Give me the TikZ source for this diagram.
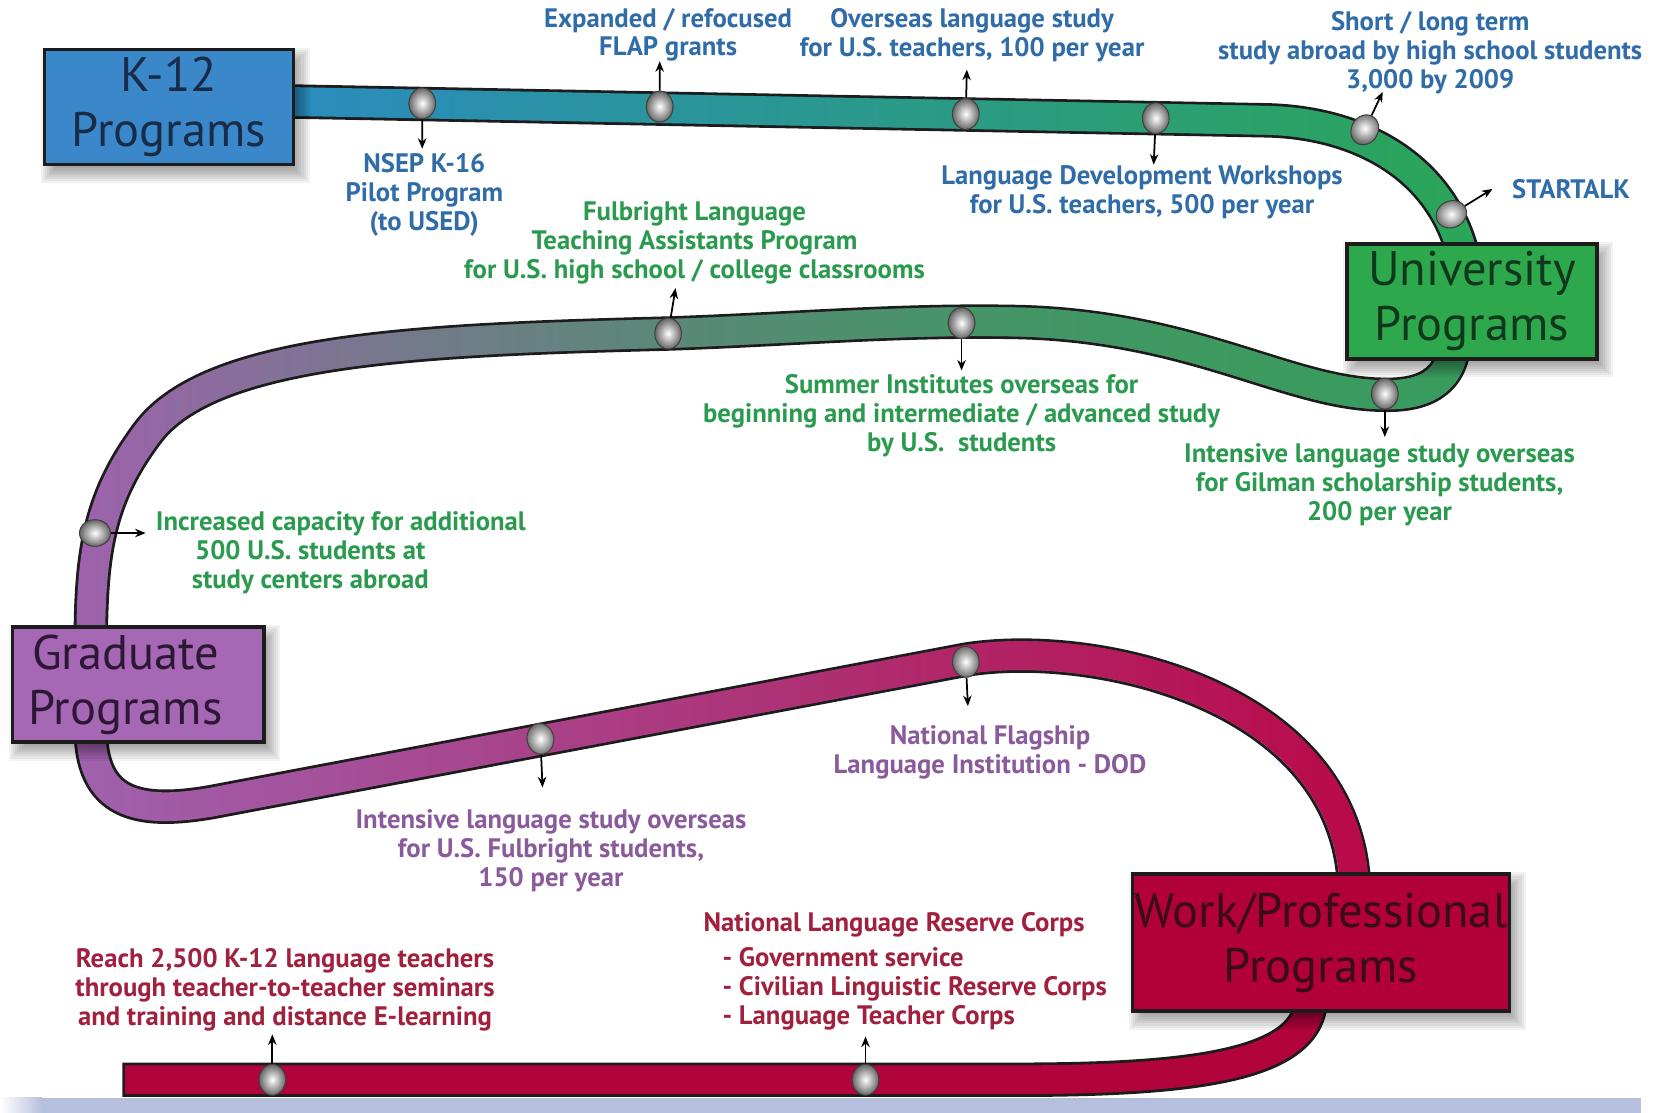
\documentclass[tikz,border=0pt]{standalone}
\usepackage{fontspec}
\setmainfont{PT Sans}
\usetikzlibrary{calc,arrows.meta,fadings,shapes.geometric}

\definecolor{kblue}{HTML}{3A87C9}
\definecolor{ugreen}{HTML}{2EA84C}
\definecolor{gpurple}{HTML}{A667B4}
\definecolor{wred}{HTML}{B2003B}
\definecolor{tblue}{HTML}{2A8CC0}
\definecolor{tgreen}{HTML}{2CA657}
\definecolor{tpurple}{HTML}{A062AE}
\definecolor{tmid}{HTML}{3A9C5E}
\definecolor{tred}{HTML}{BA0A48}
\definecolor{tredb}{HTML}{B1043C}
\definecolor{trkedge}{HTML}{1C1C1C}
\definecolor{lblue}{HTML}{2F6CA8}
\definecolor{lgreen}{HTML}{2A9A4E}
\definecolor{lpurple}{HTML}{8A5A9C}
\definecolor{lred}{HTML}{A1203E}
\definecolor{band}{HTML}{B7BFDF}

\tikzfading[name=toright, left color=transparent!100, right color=transparent!0]

\pgfdeclarelayer{trk}
\pgfdeclarelayer{shd}
\pgfsetlayers{trk,shd,main}

\newcommand\toppath{(268,96) -- (1200,114) .. controls (1290,116) and (1370,160) .. (1388,250)}
\newcommand\midpath{(1378,320) .. controls (1377,365) and (1345,375) .. (1310,374) .. controls (1220,373) and (1130,308) .. (960,305) .. controls (850,303) and (750,312) .. (633,316) .. controls (400,322) and (200,330) .. (140,410) .. controls (95,470) and (86,520) .. (86,610)}
\newcommand\lowpath{(86,690) .. controls (86,762) and (130,772) .. (200,760) -- (915,625) .. controls (1040,605) and (1280,660) .. (1283,845)}
\newcommand\botpathA{(1242,945) .. controls (1242,1010) and (1130,1023) .. (960,1023) -- (116,1023)}
\newcommand\botpathB{(1242,945) .. controls (1242,1010) and (1130,1023) .. (960,1023) -- (118.5,1023)}

\tikzset{
  lbl/.style={font=\bfseries\fontsize{7.6}{8.25}\selectfont, align=center, inner sep=0pt},
  prog/.style={draw=trkedge, line width=1pt, align=center, inner sep=0pt,
    font=\fontsize{13.8}{15.6}\selectfont},
  dot/.style={ellipse, shading=radial, inner color=white, outer color=gray!80!black,
    draw=gray!50!black, line width=0.3pt, minimum width=7.6pt,
    minimum height=8.8pt, inner sep=0pt},
  arr/.style={-{Stealth[length=3pt,width=2.4pt]}, line width=0.5pt, black},
  tedge/.style={draw=trkedge, line width=9.8pt},
  tfill/.style={line width=8.2pt}
}

\begin{document}
\begin{tikzpicture}[x=0.010555cm, y=-0.010555cm]
\useasboundingbox (0,0) rectangle (1568,1054);

% bottom band
\shade[left color=white, right color=band] (0,1040) rectangle (40,1054);
\fill[band] (40,1040) rectangle (1555,1054);

% boxes
\node[prog, fill=kblue, text={rgb,255:red,24;green,44;blue,72},
  minimum width=236*0.3003pt, minimum height=109*0.3003pt] (k12) at (160,101.5) {K-12\\Programs};
\node[prog, fill=ugreen, text={rgb,255:red,16;green,56;blue,28},
  minimum width=237*0.3003pt, minimum height=109*0.3003pt] (uni) at (1394.5,285.5) {University\\Programs};
\node[prog, fill=gpurple, text={rgb,255:red,44;green,24;blue,52},
  minimum width=238*0.3003pt, minimum height=109*0.3003pt] (grad) at (131,648.5) {\hspace*{-7.2pt}Graduate\\\hspace*{-7.2pt}Programs};
\node[prog, fill=wred, text={rgb,255:red,58;green,12;blue,24},
  minimum width=357*0.3003pt, minimum height=130*0.3003pt] (work) at (1251.5,893) {Work/Professional\\Programs};

% soft shadows
\begin{pgfonlayer}{shd}
  \foreach \n in {k12,uni,grad,work}{
    \foreach \r in {0,2,...,16}{
      \fill[black, opacity=0.05] ($(\n.north west)+(14-\r,16-\r)$) rectangle ($(\n.south east)+(\r-2,\r)$);
    }
  }
\end{pgfonlayer}

% tracks
\begin{pgfonlayer}{trk}
  \draw[tedge] \toppath;
  \draw[tfill, tblue] \toppath;
  \draw[tfill, tgreen, path fading=toright] \toppath;

  \draw[tedge] \midpath;
  \draw[tfill, tpurple] \midpath;
  \draw[tfill, tmid, path fading=toright] \midpath;
  \draw[tfill, tmid, path fading=toright] \midpath;

  \draw[tedge] \lowpath;
  \draw[tfill, tpurple] \lowpath;
  \draw[tfill, tred, path fading=toright] \lowpath;

  \draw[tedge] \botpathA;
  \draw[tfill, tredb] \botpathB;
\end{pgfonlayer}

% stations
\node[dot, rotate=-1] (d1) at (400,98) {};
\node[dot, rotate=-1] (d2) at (625,101) {};
\node[dot, rotate=-1] (d3) at (915,108) {};
\node[dot, rotate=-1] (d4) at (1095,112) {};
\node[dot, rotate=-30] (d5) at (1293,123) {};
\node[dot, rotate=-68] (d6) at (1375,203) {};
\node[dot] (d7) at (633,316) {};
\node[dot] (d8) at (911,306) {};
\node[dot] (d9) at (1312,373) {};
\node[dot, rotate=90] (d10) at (90,505) {};
\node[dot, rotate=11] (d11) at (512,700) {};
\node[dot, rotate=6] (d12) at (915,627) {};
\node[dot] (d13) at (258,1023) {};
\node[dot] (d14) at (820,1023) {};

% arrow ends
\coordinate (a1) at (400,141);
\coordinate (a2) at (625,58);
\coordinate (a3) at (916,66);
\coordinate (a4) at (1093,156);
\coordinate (a5) at (1310,87);
\coordinate (a6) at (1414,179);
\coordinate (a7) at (640,273);
\coordinate (a8) at (911,351);
\coordinate (a9) at (1312,414);
\coordinate (a10) at (138,505);
\coordinate (a11) at (514,746);
\coordinate (a12) at (917,669);
\coordinate (a13) at (258,980);
\coordinate (a14) at (820,982);

\foreach \i in {1,...,14}{ \draw[arr] (d\i) -- (a\i); }

% labels
\node[lbl, text=lblue] (l1) at (633,33) {Expanded / refocused\\FLAP grants};
\node[lbl, text=lblue] (l2) at (921,33) {Overseas language study\\for U.S. teachers, 100 per year};
\node[lbl, text=lblue] (l3) at (1355,50) {Short / long term\\study abroad by high school students\\3,000 by 2009};
\node[lbl, text=lblue] (l4) at (402,185) {NSEP K-16\\Pilot Program\\(to USED)};
\node[lbl, text=lblue] (l5) at (1082,182) {Language Development Workshops\\for U.S. teachers, 500 per year};
\node[lbl, text=lblue, anchor=west] (l6) at (1432,179) {STARTALK};
\node[lbl, text=lgreen] (l7) at (658,230) {Fulbright Language\\Teaching Assistants Program\\for U.S. high school / college classrooms};
\node[lbl, text=lgreen] (l8) at (911,394) {Summer Institutes overseas for\\beginning and intermediate / advanced study\\by U.S.\ \ students};
\node[lbl, text=lgreen] (l9) at (1307,459) {Intensive language study overseas\\for Gilman scholarship students,\\200 per year};
\node[lbl, text=lgreen] (l10) at (294,524) {\hspace*{17.4pt}Increased capacity for additional\\500 U.S. students at\\study centers abroad};
\node[lbl, text=lpurple] (l11) at (522,806) {Intensive language study overseas\\for U.S. Fulbright students,\\150 per year};
\node[lbl, text=lpurple] (l12) at (938,713) {National Flagship\\Language Institution - DOD};
\node[lbl, text=lred, align=left, anchor=north west] (l13) at (666,864) {National Language Reserve Corps\\[1.6pt]\hspace*{5.4pt}- Government service\\\hspace*{5.4pt}- Civilian Linguistic Reserve Corps\\\hspace*{5.4pt}- Language Teacher Corps};
\node[lbl, text=lred] (l14) at (270,938) {Reach 2,500 K-12 language teachers\\through teacher-to-teacher seminars\\and training and distance E-learning};

\end{tikzpicture}
\end{document}
